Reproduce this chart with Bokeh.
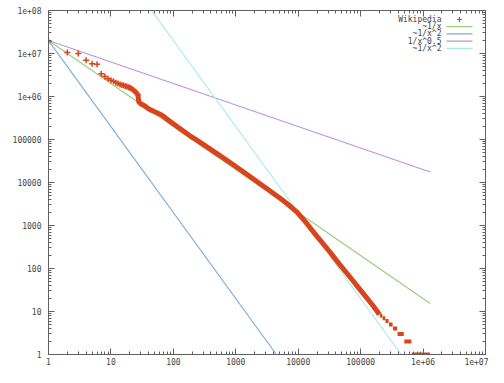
from bokeh.plotting import figure
from bokeh.models import Range1d, FixedTicker, LogAxis, Label, Arrow
from bokeh.embed import file_html
from bokeh.resources import INLINE

# ---- data ----
head_rank = [1, 2, 3, 4, 5, 6, 7, 8, 9, 10, 11, 12, 13, 14, 15, 16, 17, 18, 19, 20,
             21, 22, 23, 24, 25, 26, 27]
head_freq = [1.9e7, 1.05e7, 1.0e7, 7.0e6, 5.8e6, 5.6e6, 3.4e6, 2.9e6, 2.6e6, 2.4e6,
             2.25e6, 2.1e6, 2.0e6, 1.9e6, 1.85e6, 1.8e6, 1.72e6, 1.7e6, 1.65e6, 1.6e6,
             1.55e6, 1.48e6, 1.4e6, 1.33e6, 1.25e6, 1.18e6, 1.1e6]

body_rank = [27, 28, 30, 35, 40, 50, 65, 90, 122, 180, 251, 500, 845, 1500, 2850, 5000,
             6660, 9560, 13800, 20000, 32000, 45000, 66000, 100000, 156000, 200000]
body_freq = [1.1e6, 7.5e5, 6.8e5, 6.0e5, 5.2e5, 4.4e5, 3.7e5, 2.6e5, 1.87e5, 1.25e5, 9.2e4,
             4.7e4, 2.8e4, 1.55e4, 8.0e3, 4.4e3, 3.2e3, 2.05e3, 1.1e3, 560, 245, 130, 66,
             31, 14, 8.5]

tail_count = [8, 7, 6, 5, 4, 3, 2, 1]
tail_rank_start = [2.05e5, 2.25e5, 2.5e5, 2.85e5, 3.3e5, 3.9e5, 5.0e5, 6.6e5]
tail_rank_end = [2.23e5, 2.48e5, 2.8e5, 3.25e5, 3.85e5, 4.9e5, 6.5e5, 1.3e6]

# reference power-law lines (end points)
inv_x_x = [1, 1.3e6]
inv_x_y = [2e7, 15.4]
inv_x2_x = [1, 4472]
inv_x2_y = [2e7, 1]
inv_sqrt_x = [1, 1.3e6]
inv_sqrt_y = [2e7, 1.75e4]
inv_x2b_x = [44.7, 4.47e5]
inv_x2b_y = [1e8, 1]

tick_values = [1, 10, 100, 1000, 10000, 100000, 1e6, 1e7, 1e8]
tick_labels = ["1", "10", "100", "1000", "10000", "100000", "1e+06", "1e+07", "1e+08"]

legend_labels = ["Wikipedia", "~1/x", "~1/x^2", "1/x^0.5", "~1/x^2"]

RED = "#d9441c"
GREEN = "#9ccc80"
BLUE = "#7eaed8"
PURPLE = "#bc94e0"
CYAN = "#a6ecea"
GRAY = "#606060"
FONT = "DejaVu Sans Mono"

W, H = 488, 367
B_LEFT, B_RIGHT, B_TOP, B_BOTTOM = 48, 3, 10, 13
FRAME_H = H - B_TOP - B_BOTTOM

p = figure(width=W, height=H, x_axis_type="log", y_axis_type="log",
           x_range=Range1d(1, 1e7), y_range=Range1d(1, 1e8),
           output_backend="svg", toolbar_location=None,
           min_border_left=B_LEFT, min_border_right=B_RIGHT,
           min_border_top=B_TOP, min_border_bottom=B_BOTTOM)
p.background_fill_color = "white"
p.border_fill_color = "white"
p.outline_line_color = GRAY
p.outline_line_width = 1
p.xgrid.visible = False
p.ygrid.visible = False

minor = [k * 10 ** e for e in range(8) for k in range(2, 10)]
overrides = {v: t for v, t in zip(tick_values, tick_labels)}


def style_axis(ax, labels=True):
    ax.ticker = FixedTicker(ticks=tick_values, minor_ticks=minor)
    ax.major_tick_in = 6
    ax.major_tick_out = 0
    ax.minor_tick_in = 3
    ax.minor_tick_out = 0
    ax.major_tick_line_color = GRAY
    ax.minor_tick_line_color = GRAY
    ax.axis_line_color = GRAY
    ax.major_label_text_font = FONT
    ax.major_label_text_font_size = "8px"
    if labels:
        ax.major_label_overrides = overrides
        ax.major_label_text_color = "#444444"
    else:
        ax.major_label_overrides = {v: "" for v in tick_values}
        ax.major_label_text_color = None
        ax.major_label_standoff = 0


style_axis(p.xaxis[0])
style_axis(p.yaxis[0])
p.xaxis[0].major_label_standoff = 3
p.yaxis[0].major_label_standoff = 7

top = LogAxis()
right = LogAxis()
style_axis(top, labels=False)
style_axis(right, labels=False)
p.add_layout(top, "above")
p.add_layout(right, "right")

# reference lines
p.line(inv_x_x, inv_x_y, line_color=GREEN, line_width=1.2)
p.line(inv_x2_x, inv_x2_y, line_color=BLUE, line_width=1.2)
p.line(inv_sqrt_x, inv_sqrt_y, line_color=PURPLE, line_width=1.2)
p.line(inv_x2b_x, inv_x2b_y, line_color=CYAN, line_width=1.2)

# data
p.line(body_rank, body_freq, line_color=RED, line_width=5, line_join="round")
p.scatter(head_rank, head_freq, marker="cross", size=6, line_color=RED, line_width=1.5)
p.segment(tail_rank_start, tail_count, tail_rank_end, tail_count,
          line_color=RED, line_width=4)

# legend (gnuplot style: text right aligned, sample on the right)
# screen units are relative to the frame's bottom-left corner
colors = [RED, GREEN, BLUE, PURPLE, CYAN]
x_text = 393
x0, x1 = 398, 424
for i, (lab, col) in enumerate(zip(legend_labels, colors)):
    yy = FRAME_H - (9 + 7.2 * i)
    p.add_layout(Label(x=x_text, y=yy, x_units="screen", y_units="screen", text=lab,
                       text_align="right", text_baseline="middle", text_font=FONT,
                       text_font_size="8px", text_color="#444444"))
    if i == 0:
        xm = (x0 + x1) / 2
        p.add_layout(Arrow(end=None, x_start=xm - 2.5, y_start=yy, x_end=xm + 2.5, y_end=yy,
                           start_units="screen", end_units="screen",
                           line_color=col, line_width=1.2))
        p.add_layout(Arrow(end=None, x_start=xm, y_start=yy - 2.5, x_end=xm, y_end=yy + 2.5,
                           start_units="screen", end_units="screen",
                           line_color=col, line_width=1.2))
    else:
        p.add_layout(Arrow(end=None, x_start=x0, y_start=yy, x_end=x1, y_end=yy,
                           start_units="screen", end_units="screen",
                           line_color=col, line_width=1.2))

open("out.html", "w").write(file_html(p, INLINE))
